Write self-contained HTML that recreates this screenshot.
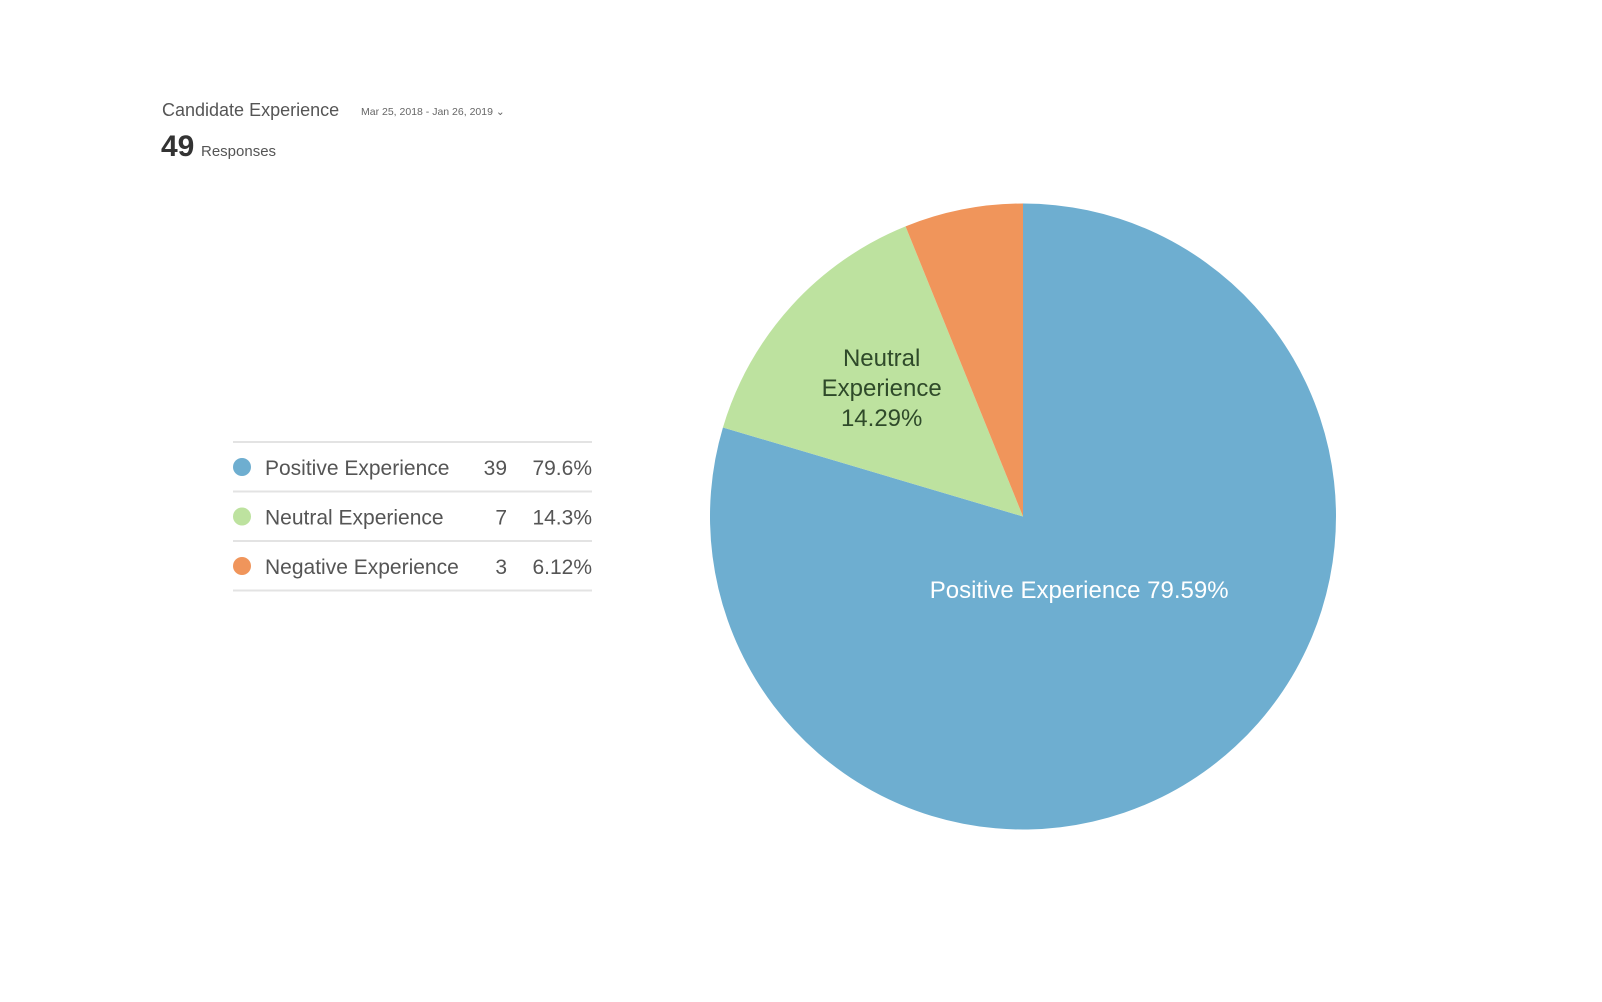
<!DOCTYPE html>
<html><head><meta charset="utf-8"><style>
html,body{margin:0;padding:0;background:#fff;}
svg{display:block;font-family:"Liberation Sans",sans-serif;}
</style></head><body>
<svg id="chart" width="1602" height="1002" viewBox="0 0 1602 1002">
<text x="162" y="116" font-size="18" fill="#555">Candidate Experience</text>
<text x="361" y="115" font-size="10.5" fill="#666">Mar 25, 2018 - Jan 26, 2019 ⌄</text>
<text x="161" y="156" font-size="30" font-weight="bold" fill="#333">49</text>
<text x="201" y="156" font-size="15" fill="#555">Responses</text>
<g id="legend"></g>
<g id="pie"></g>
<g id="labels"></g>
</svg>
<script>
const categories=["Positive Experience","Neutral Experience","Negative Experience"];
const counts=[39,7,3];
const legendPcts=["79.6%","14.3%","6.12%"];
const slicePcts=["79.59%","14.29%","6.12%"];
const colors=["#6eaed0","#bde29f","#f0955b"];
const NS="http://www.w3.org/2000/svg";
const cx=1023,cy=516.5,r=313;
const total=counts.reduce((a,b)=>a+b,0);
function mk(t,a,p){const e=document.createElementNS(NS,t);for(const k in a)e.setAttribute(k,a[k]);p.appendChild(e);return e;}
function pt(frac,rad){const a=frac*2*Math.PI;return [cx+rad*Math.sin(a),cy-rad*Math.cos(a)];}
const pie=document.getElementById('pie'),labels=document.getElementById('labels'),legend=document.getElementById('legend');
let acc=0;
counts.forEach((v,i)=>{
  const f0=acc/total,f1=(acc+v)/total;acc+=v;
  const [x0,y0]=pt(f0,r),[x1,y1]=pt(f1,r);
  const large=(f1-f0)>0.5?1:0;
  const p=mk('path',{d:`M${cx},${cy}L${x0},${y0}A${r},${r} 0 ${large} 1 ${x1},${y1}Z`,fill:colors[i]},pie);
  
  
  const mid=(f0+f1)/2;
  if(i===0){
    const [lx,ly]=pt(mid,r*0.3);
    const t=mk('text',{x:lx,y:ly+6,'font-size':24,fill:'#fff','text-anchor':'middle'},labels);
    t.textContent=categories[i]+' '+slicePcts[i];
    
    
  } else if(i===1){
    const [lx,ly]=pt(mid,r*0.61);
    const lines=["Neutral","Experience",slicePcts[i]];
    lines.forEach((s,j)=>{
      const t=mk('text',{x:lx,y:ly-22+j*30,'font-size':24,fill:'#2f4a2a','text-anchor':'middle'},labels);
      t.textContent=s;
      
      
    });
  }
});
const l0=mk('line',{x1:233,x2:592,y1:442,y2:442,stroke:'#e3e3e3','stroke-width':2},legend);


categories.forEach((c,i)=>{
  const y=467+i*49.5;
  const g=mk('g',{},legend);
  
  
  mk('circle',{cx:242,cy:y,r:9,fill:colors[i]},g);
  const t1=mk('text',{x:265,y:y+8,'font-size':21,fill:'#555'},g);t1.textContent=c;
  const t2=mk('text',{x:507,y:y+8,'font-size':21,fill:'#555','text-anchor':'end'},g);t2.textContent=counts[i];
  const t3=mk('text',{x:592,y:y+8,'font-size':21,fill:'#555','text-anchor':'end'},g);t3.textContent=legendPcts[i];
  const ln=mk('line',{x1:233,x2:592,y1:y+24.5,y2:y+24.5,stroke:'#e3e3e3','stroke-width':2},legend);
  
  
});
</script>
</body></html>
